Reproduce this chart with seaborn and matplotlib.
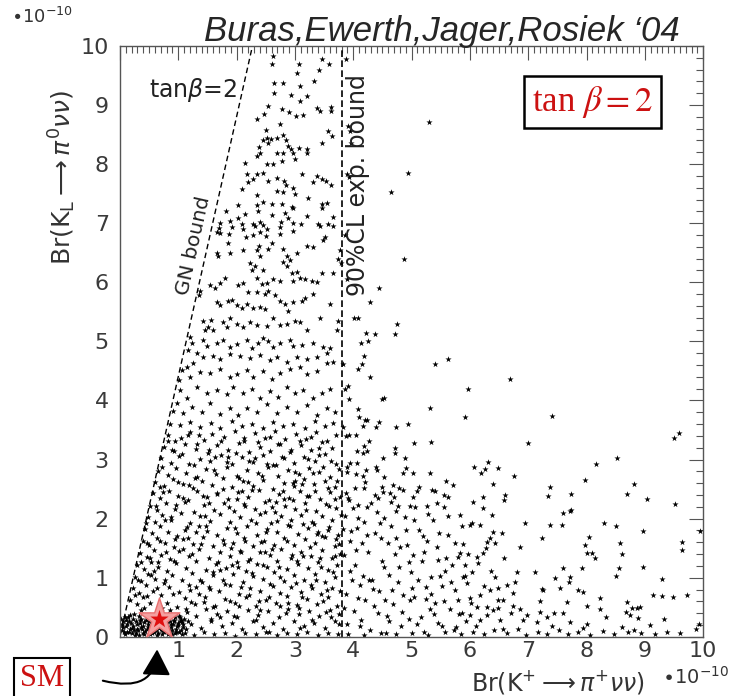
import pandas as pd
import matplotlib
matplotlib.use("Agg")
import matplotlib.pyplot as plt
from matplotlib.ticker import MultipleLocator
import seaborn as sns

# Br(K+ -> pi+ nu nu), Br(K_L -> pi0 nu nu) in units of 1e-10
blob_pts = [
    (0.03,0.12),(0.06,0.27),(0.09,0.05),(0.11,0.19),(0.14,0.33),(0.16,0.09),(0.19,0.24),(0.21,0.15),
    (0.24,0.38),(0.26,0.03),(0.29,0.21),(0.31,0.11),(0.34,0.29),(0.36,0.17),(0.39,0.07),(0.41,0.25),
    (0.44,0.35),(0.46,0.13),(0.49,0.22),(0.51,0.04),(0.54,0.31),(0.56,0.16),(0.59,0.09),(0.61,0.27),
    (0.64,0.19),(0.66,0.06),(0.69,0.36),(0.71,0.14),(0.74,0.23),(0.76,0.08),(0.79,0.32),(0.81,0.18),
    (0.84,0.11),(0.86,0.26),(0.89,0.05),(0.91,0.21),(0.94,0.34),(0.96,0.13),(0.99,0.24),(1.02,0.08),
    (1.05,0.29),(1.08,0.17),(0.04,0.21),(0.08,0.34),(0.12,0.08),(0.15,0.26),(0.18,0.14),(0.22,0.31),
    (0.25,0.11),(0.28,0.06),(0.32,0.36),(0.35,0.23),(0.38,0.13),(0.42,0.04),(0.45,0.28),(0.48,0.17),
    (0.52,0.37),(0.55,0.07),(0.58,0.24),(0.62,0.12),(0.65,0.33),(0.68,0.21),(0.72,0.05),(0.75,0.29),
    (0.78,0.15),(0.82,0.39),(0.85,0.07),(0.88,0.22),(0.92,0.28),(0.95,0.06),(0.98,0.18),(1.01,0.36),
    (1.04,0.12),(1.07,0.25),(1.10,0.31),(0.02,0.31),(0.05,0.16),(0.07,0.09),(0.10,0.29),(0.13,0.22),
    (0.17,0.37),(0.20,0.07),(0.23,0.19),(0.27,0.27),(0.30,0.14),(0.33,0.03),(0.37,0.31),(0.40,0.19),
    (0.43,0.10),(0.47,0.34),(0.50,0.26),(0.53,0.12),(0.57,0.21),(0.60,0.38),(0.63,0.03),(0.67,0.15),
    (0.70,0.26),(0.73,0.11),(0.77,0.19),(0.80,0.25),(0.83,0.04),(0.87,0.16),(0.90,0.12),(0.93,0.27),
    (0.97,0.09),(1.00,0.20),(1.03,0.33),(1.06,0.04),(1.09,0.21),(1.13,0.14),(1.16,0.27),
]

core_pts = [
    (0.82,3.42),(1.05,3.36),(1.21,3.47),(1.44,3.33),(1.58,3.44),(1.79,3.38),(1.97,3.49),(2.13,3.31),
    (2.31,3.45),(2.49,3.37),(2.66,3.48),(2.83,3.34),(3.02,3.43),(3.19,3.35),(3.37,3.46),(3.55,3.32),(3.71,3.41),
    (0.76,3.22),(0.93,3.14),(1.12,3.27),(1.30,3.18),(1.51,3.11),(1.67,3.25),(1.86,3.16),(2.04,3.28),
    (2.22,3.12),(2.40,3.21),(2.57,3.15),(2.75,3.26),(2.92,3.13),(3.10,3.24),(3.28,3.17),(3.46,3.29),(3.64,3.19),
    (0.71,3.03),(0.88,2.95),(1.01,3.06),(1.19,2.92),(1.37,3.01),(1.55,2.97),(1.73,3.08),(1.92,2.93),
    (2.09,3.04),(2.28,2.96),(2.46,3.07),(2.63,2.91),(2.81,3.02),(2.99,2.94),(3.16,3.05),(3.34,2.98),(3.52,3.09),(3.70,2.93),
    (0.66,2.81),(0.82,2.74),(0.97,2.86),(1.14,2.78),(1.32,2.71),(1.48,2.84),(1.65,2.76),(1.83,2.88),
    (2.01,2.72),(2.18,2.83),(2.36,2.77),(2.54,2.87),(2.71,2.73),(2.89,2.82),(3.07,2.75),(3.24,2.86),(3.42,2.79),(3.60,2.71),(3.76,2.84),
    (0.61,2.62),(0.75,2.55),(0.91,2.67),(1.08,2.58),(1.25,2.52),(1.41,2.64),(1.58,2.57),(1.76,2.68),
    (1.93,2.53),(2.11,2.63),(2.29,2.56),(2.46,2.66),(2.63,2.51),(2.81,2.61),(2.98,2.55),(3.15,2.67),(3.33,2.58),(3.51,2.64),(3.68,2.53),
    (0.57,2.43),(0.69,2.35),(0.84,2.46),(1.00,2.38),(1.17,2.32),(1.33,2.47),(1.50,2.36),(1.67,2.44),
    (1.85,2.33),(2.03,2.45),(2.20,2.37),(2.38,2.48),(2.55,2.31),(2.73,2.42),(2.90,2.35),(3.08,2.46),(3.25,2.38),(3.43,2.33),(3.61,2.45),(3.77,2.36),
    (0.52,2.21),(0.64,2.14),(0.79,2.26),(0.95,2.17),(1.11,2.28),(1.27,2.12),(1.44,2.23),(1.61,2.15),
    (1.78,2.27),(1.96,2.13),(2.13,2.24),(2.31,2.16),(2.48,2.29),(2.66,2.11),(2.83,2.22),(3.01,2.17),(3.18,2.27),(3.36,2.13),(3.53,2.24),(3.71,2.18),
    (0.48,2.02),(0.60,1.95),(0.73,2.07),(0.88,1.98),(1.04,2.09),(1.21,1.93),(1.37,2.04),(1.54,1.96),
    (1.72,2.08),(1.89,1.94),(2.06,2.03),(2.24,1.97),(2.41,2.08),(2.59,1.92),(2.76,2.05),(2.94,1.98),(3.11,2.07),(3.29,1.95),(3.46,2.04),(3.64,1.97),(3.79,2.06),
    (0.43,1.82),(0.55,1.75),(0.68,1.87),(0.82,1.78),(0.98,1.71),(1.15,1.86),(1.31,1.77),(1.48,1.88),
    (1.66,1.73),(1.83,1.84),(2.00,1.76),(2.18,1.87),(2.35,1.72),(2.53,1.83),(2.70,1.77),(2.88,1.89),(3.05,1.74),(3.23,1.85),(3.40,1.78),(3.58,1.86),(3.74,1.73),
    (0.39,1.63),(0.50,1.56),(0.63,1.68),(0.77,1.59),(0.92,1.52),(1.08,1.66),(1.25,1.57),(1.42,1.69),
    (1.59,1.54),(1.77,1.64),(1.94,1.58),(2.12,1.67),(2.29,1.53),(2.47,1.63),(2.64,1.56),(2.82,1.68),(2.99,1.55),(3.17,1.65),(3.34,1.59),(3.52,1.69),(3.69,1.54),
    (0.35,1.42),(0.46,1.35),(0.58,1.47),(0.71,1.38),(0.86,1.31),(1.02,1.45),(1.19,1.36),(1.36,1.48),
    (1.53,1.33),(1.71,1.44),(1.88,1.37),(2.06,1.46),(2.23,1.32),(2.41,1.43),(2.58,1.38),(2.76,1.49),(2.93,1.34),(3.11,1.44),(3.28,1.37),(3.46,1.47),(3.63,1.33),(3.78,1.41),
    (0.30,1.22),(0.41,1.15),(0.53,1.27),(0.66,1.18),(0.80,1.11),(0.96,1.25),(1.13,1.16),(1.30,1.28),
    (1.47,1.13),(1.65,1.24),(1.82,1.17),(2.00,1.27),(2.17,1.12),(2.35,1.23),(2.52,1.18),(2.70,1.29),(2.87,1.14),(3.05,1.24),(3.22,1.16),(3.40,1.27),(3.57,1.13),(3.73,1.22),
    (0.26,1.02),(0.37,0.95),(0.48,1.07),(0.61,0.98),(0.75,0.91),(0.90,1.05),(1.07,0.96),(1.24,1.08),
    (1.41,0.93),(1.59,1.04),(1.76,0.97),(1.94,1.07),(2.11,0.92),(2.29,1.03),(2.46,0.98),(2.64,1.09),(2.81,0.94),(2.99,1.04),(3.16,0.96),(3.34,1.07),(3.51,0.93),(3.68,1.02),
    (0.22,0.82),(0.33,0.75),(0.44,0.87),(0.57,0.78),(0.70,0.71),(0.85,0.85),(1.01,0.76),(1.18,0.88),
    (1.35,0.73),(1.53,0.84),(1.70,0.77),(1.88,0.87),(2.05,0.72),(2.23,0.83),(2.40,0.78),(2.58,0.89),(2.75,0.74),(2.93,0.84),(3.10,0.76),(3.28,0.87),(3.45,0.73),(3.63,0.82),(3.77,0.77),
    (0.18,0.62),(0.29,0.55),(0.40,0.67),(0.52,0.58),(0.98,0.51),(1.12,0.65),(1.29,0.56),(1.46,0.68),
    (1.63,0.53),(1.81,0.64),(1.98,0.57),(2.16,0.67),(2.33,0.52),(2.51,0.63),(2.68,0.58),(2.86,0.69),(3.03,0.54),(3.21,0.64),(3.38,0.56),(3.56,0.67),(3.72,0.53),
    (1.15,0.42),(1.31,0.35),(1.48,0.47),(1.66,0.38),(1.84,0.44),(2.01,0.33),(2.19,0.46),(2.37,0.37),
    (2.54,0.43),(2.72,0.34),(2.89,0.47),(3.07,0.39),(3.24,0.44),(3.42,0.35),(3.60,0.46),(3.76,0.38),
    (1.22,0.22),(1.39,0.15),(1.57,0.27),(1.75,0.18),(1.92,0.24),(2.10,0.13),(2.28,0.26),(2.45,0.17),
    (2.63,0.23),(2.80,0.14),(2.98,0.27),(3.15,0.19),(3.33,0.24),(3.51,0.15),(3.68,0.26),
]

core_fill = [
    (0.95,3.31),(1.63,3.05),(2.37,3.29),(3.41,3.08),(0.74,2.45),(1.27,2.91),(2.19,2.62),(2.94,3.17),
    (3.57,2.52),(1.52,2.27),(2.61,2.19),(3.12,2.58),(0.68,1.62),(1.09,2.35),(1.98,1.85),(2.87,1.62),
    (3.33,1.91),(0.54,1.05),(1.39,1.57),(2.45,1.21),(3.02,0.91),(3.68,1.37),(0.47,0.69),(0.93,1.29),
    (1.72,1.13),(2.22,0.71),(2.74,0.52),(3.49,0.61),(1.22,0.59),(1.95,0.36),(2.56,0.09),(3.30,0.29),
    (0.86,0.46),(1.55,0.81),(2.08,1.43),(2.69,1.96),(3.21,2.39),(3.62,2.97),(1.11,1.81),(1.77,2.51),
    (2.32,3.02),(2.96,2.31),(3.71,1.65),(0.62,2.21),(0.99,2.62),(1.46,2.05),(2.14,2.21),(2.79,2.46),
    (3.38,1.74),(1.30,0.85),(1.88,0.61),(2.41,0.45),(3.09,0.15),(3.55,0.79),(1.03,0.27),(1.60,0.51),
    (2.02,1.19),(2.50,1.77),(3.14,1.36),(3.44,1.18),(0.79,1.43),(1.17,1.67),(1.84,2.96),(2.71,3.27),
    (3.27,3.39),(0.89,3.16),(1.35,3.41),(2.05,2.69),(2.53,2.92),(3.00,2.64),(1.12,0.06),(1.27,0.03),
    (1.45,0.08),(1.61,0.04),(1.80,0.07),(1.97,0.02),(2.15,0.06),(2.33,0.04),(2.50,0.08),(2.69,0.03),
    (2.86,0.06),(3.04,0.05),(3.21,0.08),(3.39,0.03),(3.57,0.06),(3.74,0.04),
]

core_fill2 = [
    (0.58,1.12),(0.73,2.88),(0.81,0.57),(0.87,2.03),(0.94,1.66),(1.06,3.09),(1.14,0.47),(1.19,2.57),
    (1.24,1.41),(1.33,3.26),(1.38,0.97),(1.42,2.38),(1.49,1.79),(1.56,0.31),(1.62,2.82),(1.68,1.27),
    (1.74,3.31),(1.81,0.89),(1.87,2.19),(1.91,1.51),(1.99,3.11),(2.04,0.52),(2.09,2.47),(2.15,1.63),
    (2.21,2.97),(2.26,1.08),(2.33,1.93),(2.38,0.61),(2.44,2.73),(2.48,1.43),(2.57,3.39),(2.62,0.86),
    (2.67,2.29),(2.73,1.19),(2.78,3.04),(2.84,0.41),(2.91,1.88),(2.96,2.61),(3.04,1.28),(3.09,3.31),
    (3.13,0.68),(3.19,2.14),(3.26,1.52),(3.31,2.77),(3.36,0.97),(3.41,3.19),(3.47,1.71),(3.53,0.42),
    (3.58,2.21),(3.66,1.09),(3.73,2.63),(3.76,0.21),(0.45,1.93),(0.51,1.33),(0.63,0.83),(0.69,2.54),
    (0.77,1.97),(0.83,3.31),(0.91,0.73),(0.97,2.23),(1.09,1.49),(1.16,3.42),(1.21,0.79),(1.28,2.69),
    (1.35,1.87),(1.44,0.59),(1.52,3.17),(1.59,1.09),(1.66,2.41),(1.71,0.33),(1.79,1.57),(1.86,3.04),
    (1.93,1.21),(2.01,2.33),(2.07,0.84),(2.12,3.36),(2.19,1.29),(2.27,2.49),(2.34,0.29),(2.42,1.61),
    (2.49,2.11),(2.55,0.67),(2.61,1.49),(2.68,2.91),(2.75,1.02),(2.82,2.34),(2.89,0.58),(2.95,1.39),
    (3.01,2.79),(3.07,0.48),(3.14,1.91),(3.22,3.01),(3.29,0.83),(3.35,2.47),(3.43,1.33),(3.49,2.88),
    (3.56,1.81),(3.62,0.33),(3.69,2.33),(3.75,1.57),(0.37,1.26),(0.42,0.49),(0.31,0.97),(0.26,0.71),
    (0.55,0.36),(0.47,1.58),(0.36,0.45),(0.66,1.27),(0.72,0.49),(0.78,0.96),
]

mid_pts = [
    (1.72,6.84),(1.87,6.81),(2.16,6.76),(2.28,6.80),(2.40,6.85),(2.50,6.78),(2.74,6.82),(2.97,6.86),
    (1.85,6.66),(1.89,6.50),(2.11,6.55),(2.35,6.54),(2.41,6.45),(2.54,6.57),(2.60,6.66),(2.39,6.62),
    (1.66,6.50),(1.69,6.44),(2.80,6.57),(2.86,6.45),(2.92,6.37),(2.79,6.34),(3.03,6.49),(3.20,6.62),
    (3.31,6.59),(3.52,6.76),(3.48,6.71),(3.77,6.54),(3.74,6.40),(3.79,6.32),(3.65,6.15),
    (2.23,6.32),(2.32,6.28),(2.26,6.20),(2.45,6.20),(2.35,6.08),(2.52,5.98),(2.44,5.97),(2.62,6.06),
    (2.74,6.03),(2.86,6.28),(2.95,6.15),(3.03,6.17),(3.09,6.08),(2.97,6.03),(3.17,6.06),(3.29,6.03),
    (3.38,6.01),(3.46,6.15),(1.80,6.08),(1.54,5.95),(1.63,5.91),(1.72,5.98),(2.02,5.95),(2.11,5.99),
    (2.20,5.83),(2.35,5.84),(2.49,5.81),(2.54,5.85),(1.38,5.86),(1.36,5.78),(2.66,5.78),(2.74,5.69),
    (2.83,5.64),(2.88,5.52),(2.97,5.66),(3.12,5.69),(3.17,5.74),(3.31,5.81),(1.66,5.66),(1.72,5.61),
    (1.85,5.69),(1.92,5.70),(2.00,5.61),(2.09,5.57),(2.18,5.64),(2.28,5.56),(2.40,5.58),(2.49,5.55),
    (3.60,5.64),(3.43,5.39),(3.74,5.35),(3.72,5.19),(1.43,5.35),(1.57,5.36),(1.51,5.24),(1.46,5.19),
    (1.60,5.20),(1.77,5.32),(1.89,5.39),(1.83,5.24),(2.00,5.30),(2.11,5.24),(2.23,5.32),(2.35,5.27),
    (2.52,5.26),(2.62,5.39),(2.74,5.27),(2.86,5.30),(3.00,5.35),(3.09,5.32),(3.20,5.19),
    (1.20,5.07),(1.23,4.97),(1.17,4.85),(1.43,5.02),(1.49,4.93),(1.66,4.97),(1.77,5.02),(1.89,4.90),
    (2.00,4.96),(2.18,5.03),(2.26,4.88),(2.37,4.98),(2.45,5.05),(2.54,5.01),(2.62,4.90),(2.74,4.97),
    (2.92,5.02),(2.97,4.93),(3.12,4.94),(3.31,4.97),(3.48,4.91),(3.60,4.88),
    (1.32,4.80),(1.43,4.73),(1.60,4.76),(1.72,4.71),(1.89,4.79),(2.06,4.75),(2.23,4.72),(2.40,4.77),
    (2.57,4.68),(2.69,4.74),(2.86,4.65),(3.03,4.73),(3.20,4.71),(3.38,4.74),(3.55,4.80),(3.65,4.65),
    (1.01,4.34),(1.06,4.51),(1.15,4.56),(1.26,4.63),(1.20,4.39),(1.37,4.48),(1.54,4.46),(1.72,4.54),
    (1.89,4.39),(2.00,4.45),(2.18,4.51),(2.28,4.40),(2.45,4.50),(2.60,4.37),(2.74,4.46),(2.92,4.54),
    (3.09,4.56),(3.20,4.45),(3.38,4.50),(3.55,4.63),(1.03,4.17),(1.15,4.05),(1.32,4.22),(1.49,4.12),
    (1.66,4.18),(1.83,4.11),(1.94,4.23),(2.11,4.13),(2.26,4.20),(2.40,4.04),(2.57,4.16),(2.71,4.06),
    (2.86,4.22),(3.00,4.12),(3.14,4.17),(3.31,4.05),(3.46,4.13),(3.60,4.19),
    (0.91,3.83),(0.98,3.95),(1.08,3.78),(1.23,3.89),(1.40,3.80),(1.54,3.96),(1.72,3.77),(1.89,3.88),
    (2.02,3.75),(2.18,3.87),(2.35,3.81),(2.52,3.94),(2.69,3.78),(2.86,3.89),(3.03,3.80),(3.20,3.92),
    (3.38,3.76),(3.55,3.88),(3.69,3.81),(0.86,3.61),(1.03,3.58),(1.20,3.63),(1.37,3.55),(1.57,3.62),
    (1.72,3.54),(1.92,3.65),(2.09,3.56),(2.26,3.60),(2.45,3.53),(2.62,3.64),(2.80,3.57),(2.97,3.61),
    (3.17,3.54),(3.35,3.66),(3.52,3.56),(3.65,3.62),
]

top_pts = [
    (2.62,9.83),(2.60,9.70),(3.07,9.69),(3.46,9.78),(3.59,9.69),(3.03,9.55),(3.41,9.60),(3.33,9.41),
    (2.64,9.37),(2.80,9.37),(3.09,9.32),(2.64,9.20),(2.93,9.17),(3.20,9.15),(3.09,9.07),(2.54,8.99),
    (3.38,8.95),(3.43,8.90),(3.62,8.97),(3.62,8.90),(2.35,8.77),(2.47,8.85),(2.78,8.93),(2.90,8.88),
    (3.02,8.82),(3.14,8.83),(2.74,8.68),(2.50,8.58),(3.57,8.56),(3.64,8.48),(2.52,8.45),(2.59,8.43),
    (2.69,8.45),(2.80,8.50),(2.85,8.40),(2.45,8.40),(2.54,8.36),(2.88,8.31),(2.93,8.26),(3.07,8.28),
    (3.21,8.26),(3.21,8.18),(3.46,8.36),(2.38,8.29),(2.35,8.14),(2.40,8.18),(2.69,8.19),(2.80,8.19),
    (2.14,8.02),(2.52,8.00),(2.62,8.00),(2.78,8.06),(2.97,8.18),(3.00,8.09),(2.18,7.84),(2.35,7.84),
    (2.45,7.85),(2.54,7.72),(2.69,7.77),(2.81,7.72),(2.85,7.65),(3.38,7.80),(3.46,7.75),(3.53,7.72),
    (3.62,7.64),(3.12,7.84),(3.31,7.69),(2.09,7.58),(2.20,7.70),(2.28,7.74),(2.69,7.55),(2.80,7.52),
    (2.97,7.60),(3.00,7.50),(3.22,7.43),(2.35,7.47),(2.45,7.36),(2.61,7.33),(2.78,7.33),(2.95,7.28),
    (2.02,7.30),(2.14,7.16),(2.35,7.30),(2.37,7.20),(2.97,7.25),(2.83,7.18),(3.46,7.33),(3.46,7.25),
    (3.55,7.35),(3.65,7.10),(1.82,7.20),(1.71,7.00),(1.66,6.85),(1.70,6.92),(1.89,7.04),(1.92,6.94),
    (2.02,7.09),(2.09,6.99),(2.11,6.90),(2.28,6.99),(2.31,6.95),(2.40,7.02),(2.45,6.97),(2.52,6.91),
    (2.60,7.14),(2.77,7.02),(2.88,7.08),(2.97,7.00),(2.74,6.93),(3.10,6.99),(3.21,7.13),(3.40,6.99),
    (3.43,6.95),(3.57,6.99),(3.65,6.95),
]

right_pts = [
    (5.30,8.72),(4.94,7.85),(4.65,7.52),(4.87,6.40),(4.44,5.90),(4.29,5.66),(4.01,5.40),(4.75,5.30),
    (4.72,5.13),(4.22,5.15),(4.37,5.13),(4.13,4.98),(4.25,5.00),(3.91,8.65),(3.95,8.56),(3.90,7.84),
    (3.96,8.36),(3.88,9.78),(3.92,7.79),(3.86,6.80),(3.90,6.05),(4.08,5.39),(4.19,4.76),(3.83,4.61),
    (4.15,4.61),(4.08,4.54),(5.40,4.61),(5.63,4.70),(4.29,4.39),(6.69,4.36),(3.86,4.19),(3.91,4.24),
    (5.97,4.19),(3.93,4.02),(4.49,4.02),(4.53,4.04),(5.32,3.87),(4.08,3.85),(4.10,3.72),(4.20,3.67),
    (4.24,3.67),(4.44,3.63),(4.39,3.55),(4.17,3.56),(5.92,3.72),(7.41,3.73),(4.73,3.55),(4.94,3.60),
    (3.83,3.55),(3.88,3.40),(3.93,3.41),(4.05,3.41),(5.33,3.29),(5.04,3.28),(4.27,3.31),(4.19,3.23),
    (4.17,3.11),(4.24,3.14),(4.07,3.14),(4.72,3.19),(4.72,3.11),(7.00,3.28),(9.50,3.36),(9.59,3.45),
    (4.51,3.02),(4.89,3.02),(3.89,2.87),(3.95,2.94),(4.07,2.94),(3.89,2.79),(4.39,2.87),(4.41,2.82),
    (4.22,2.82),(4.17,2.72),(4.05,2.75),(4.91,2.85),(5.03,2.77),(4.85,2.77),(4.53,2.70),(5.32,2.77),
    (6.07,2.87),(6.26,2.84),(6.19,2.77),(6.31,2.96),(6.48,2.85),(6.76,2.72),(8.16,2.92),(7.98,2.65),
    (8.52,3.02),(7.38,2.53),(8.82,2.58),(5.59,2.63),(5.71,2.57),(6.40,2.58),(4.03,2.52),(4.20,2.62),
    (4.19,2.52),(4.49,2.53),(4.51,2.45),(4.68,2.57),(4.79,2.52),(4.85,2.48),(5.03,2.36),(5.09,2.47),
    (5.13,2.53),(5.35,2.48),(5.40,2.47),(5.56,2.40),(5.63,2.36),(3.88,2.43),(3.91,2.35),(4.08,2.23),
    (4.24,2.20),(4.37,2.40),(4.43,2.35),(4.63,2.43),(4.70,2.36),(4.65,2.28),(4.77,2.21),(4.97,2.21),
    (5.06,2.20),(5.27,2.21),(5.44,2.26),(5.56,2.20),(6.05,2.28),(6.23,2.36),(6.23,2.18),(6.60,2.40),
    (6.59,2.31),(7.34,2.38),(7.74,2.42),(7.74,2.15),(8.70,2.42),(9.04,2.33),(9.52,2.25),
]

tail_pts = [
    (3.86,2.05),(3.95,1.62),(4.03,1.21),(4.11,0.88),(4.02,0.44),(3.89,0.21),(4.18,1.95),(4.26,1.44),
    (4.33,0.97),(4.21,0.62),(4.29,0.12),(4.41,2.12),(4.47,1.67),(4.53,1.18),(4.45,0.78),(4.58,0.36),
    (4.64,1.88),(4.71,1.41),(4.77,0.92),(4.69,0.55),(4.82,0.18),(4.88,2.02),(4.93,1.55),(4.99,1.09),
    (5.05,0.68),(4.96,0.31),(5.12,1.81),(5.18,1.29),(5.24,0.84),(5.31,0.47),(5.22,0.09),(5.37,1.97),
    (5.43,1.52),(5.49,1.03),(5.56,0.61),(5.46,0.24),(5.63,1.73),(5.69,1.22),(5.75,0.79),(5.81,0.38),
    (5.72,0.11),(3.92,2.31),(4.07,1.84),(4.14,0.29),(4.38,1.76),(4.61,1.04),(4.85,0.71),(5.02,1.38),
    (5.27,1.62),(5.52,0.86),(5.88,1.57),(3.84,1.38),(3.98,0.97),(4.09,0.66),(4.36,0.53),(4.52,2.01),
    (4.74,1.67),(5.09,0.22),(5.34,0.73),(5.66,0.47),(5.91,1.03),(6.02,0.58),(6.11,0.19),(6.25,0.86),
    (6.36,1.12),(6.49,0.62),(6.57,0.14),(6.71,0.41),(3.83,1.83),(3.87,0.73),(3.94,1.11),(3.99,2.18),
    (4.05,1.47),(4.12,0.18),(4.16,1.03),(4.23,1.72),(4.31,2.27),(4.34,0.81),(4.42,0.41),(4.49,1.29),
    (4.56,0.07),(4.60,1.58),(4.66,0.79),(4.73,2.13),(4.79,1.19),(4.84,0.42),(4.91,1.81),(4.98,0.63),
    (5.04,1.98),(5.11,0.97),(5.16,0.34),(5.21,1.44),(5.29,2.08),(5.33,1.01),(5.41,0.57),(5.47,1.75),
    (5.53,0.19),(5.59,1.33),(5.62,2.04),(5.68,0.93),(5.74,1.58),(5.79,0.62),(5.86,1.87),(5.93,0.27),
    (5.97,1.41),(3.85,0.49),(3.97,1.79),(4.08,2.01),(4.27,0.97),(4.46,1.93),(4.62,0.26),(4.81,1.52),
    (5.01,0.82),(5.19,1.71),(5.38,0.39),(5.58,1.12),(5.77,0.17),(4.15,1.58),(4.55,0.63),(4.95,1.27),
    (5.25,0.64),(5.45,1.30),
]

far_pts = [
    (5.83,2.06),(6.38,2.06),(7.60,2.09),(7.72,2.13),(6.95,1.93),(7.38,1.89),(7.58,1.89),(8.30,1.93),
    (8.51,1.88),(8.97,1.79),(9.95,1.79),(9.64,1.60),(9.64,1.47),(8.97,1.18),(9.30,0.98),(9.14,0.71),
    (9.30,0.69),(9.49,0.68),(9.73,0.71),(7.98,1.55),(8.01,1.42),(8.10,1.42),(8.15,1.33),(8.04,1.69),
    (8.58,1.59),(8.61,1.40),(8.56,1.17),(8.51,1.03),(7.92,1.17),(7.24,1.67),(6.86,1.52),(6.59,1.33),
    (7.12,1.10),(7.46,1.00),(7.60,1.17),(7.72,1.01),(7.70,0.93),(7.55,0.83),(7.85,0.79),(7.66,0.59),
    (7.94,0.76),(8.23,0.66),(8.01,0.52),(8.23,0.47),(8.34,0.34),(7.60,0.41),(7.45,0.41),(7.33,0.34),
    (7.24,0.81),(7.26,0.79),(7.21,0.61),(7.72,0.25),(7.94,0.15),(8.70,0.59),(8.78,0.49),(8.87,0.49),
    (8.92,0.51),(8.68,0.42),(8.75,0.37),(8.89,0.32),(9.09,0.20),(9.33,0.30),(6.81,1.10),(6.78,0.93),
    (6.64,0.88),(6.74,0.74),(6.57,0.63),(6.74,0.52),(6.86,0.47),(6.98,0.37),(6.91,0.29),(7.15,0.25),
    (7.20,0.42),(6.43,1.59),(6.35,1.67),(6.30,1.60),(6.23,1.42),(6.28,1.50),(6.04,1.93),(6.00,1.89),
    (6.17,1.89),(6.40,1.77),(6.55,1.76),(6.14,1.25),(6.12,1.35),(5.83,1.42),(5.80,1.35),(5.92,1.22),
    (6.04,1.10),(5.88,1.01),(5.95,0.91),(6.00,0.66),(6.17,0.71),(6.35,0.79),(6.43,1.01),(6.48,0.83),
    (6.30,0.51),(6.12,0.51),(5.87,0.41),(6.00,0.37),(6.30,0.37),(6.40,0.46),(6.48,0.49),(6.52,0.29),
    (6.17,0.29),
]

floor_pts = [
    (6.05,0.08),(6.24,0.04),(6.42,0.11),(6.63,0.06),(6.82,0.13),(6.97,0.03),(7.16,0.09),(7.33,0.05),
    (7.52,0.12),(7.68,0.04),(7.86,0.08),(8.06,0.03),(8.28,0.10),(8.47,0.05),(8.71,0.09),(8.82,0.12),
    (8.93,0.07),(9.18,0.04),(9.38,0.09),(9.61,0.06),(9.87,0.14),(9.93,0.22),(7.40,0.18),(8.00,0.21),
    (8.60,0.17),(3.91,0.05),(4.19,0.03),(4.47,0.07),(4.73,0.04),(5.01,0.06),(5.28,0.03),(5.57,0.08),
    (5.84,0.05),
]

sm_point = (0.67, 0.30)
gn_slope = 4.4        # GN bound: Br(KL) <= 4.4 Br(K+)
exp_bound = 3.8       # 90% CL experimental bound on Br(K+)

sns.set_style("white")
plt.rcParams['font.family'] = ['DejaVu Sans']
plt.rcParams['mathtext.fontset'] = 'dejavusans'

fig = plt.figure(figsize=(7.31, 6.96), dpi=100)
ax = fig.add_axes([0.164, 0.085, 0.798, 0.849])

pts = (blob_pts + core_pts + core_fill + core_fill2 + mid_pts + top_pts
       + right_pts + tail_pts + far_pts + floor_pts)
df = pd.DataFrame(pts, columns=["br_kplus", "br_kl"])
sns.scatterplot(data=df, x="br_kplus", y="br_kl", ax=ax, marker="*", s=22,
                color="black", linewidth=0, legend=False, clip_on=True)

# bounds
ax.plot([0, 10 / gn_slope], [0, 10], color="black", lw=1, ls=(0, (4, 2.5)))
ax.axvline(exp_bound, color="black", lw=1.2, ls=(0, (4, 2)))

# SM point
ax.scatter([sm_point[0]], [sm_point[1]], marker="*", s=950, color="#f4a0a0",
           edgecolor="#e87070", linewidth=1, zorder=5)
ax.scatter([sm_point[0]], [sm_point[1]], marker="*", s=190, color="#e01010",
           linewidth=0, zorder=6)

ax.set_xlim(0, 10)
ax.set_ylim(0, 10)
ax.set_xticks(range(0, 11))
ax.set_xticklabels([""] + [str(i) for i in range(1, 11)])
ax.set_yticks(range(0, 11))
ax.xaxis.set_minor_locator(MultipleLocator(0.1))
ax.yaxis.set_minor_locator(MultipleLocator(0.2))
ax.tick_params(which="both", direction="in", top=True, right=True, colors="#555555",
               labelcolor="#3a3a3a", labelsize=16, width=0.8)
ax.tick_params(which="major", length=10)
ax.tick_params(which="minor", length=5)
ax.tick_params(axis="x", pad=3)
ax.tick_params(axis="y", pad=8)
for sp in ax.spines.values():
    sp.set_color("#555555")
    sp.set_linewidth(1)
ax.set_xlabel("")
ax.set_ylabel("")

# annotations inside the frame
ax.text(0.5, 9.25, r"tan$\beta$=2", fontsize=17, color="#222222", ha="left", va="center")
ax.text(1.27, 6.62, "GN bound", fontsize=14.5, color="#222222", rotation=77.5,
        ha="center", va="center")
ax.text(4.08, 7.65, "90%CL exp. bound", fontsize=17, color="#222222", rotation=90,
        ha="center", va="center")
ax.text(8.1, 9.05, r"tan $\beta = 2$", fontsize=25, color="#cc1111", ha="center", va="center",
        family="Liberation Serif", math_fontfamily="stix",
        bbox=dict(boxstyle="square,pad=0.22", fc="white", ec="black", lw=1.8))

# titles and axis labels
fig.text(0.93, 0.955, "Buras,Ewerth,Jager,Rosiek \u201804", fontsize=25, style="italic",
         family="Liberation Sans", ha="right", va="center")
fig.text(0.057, 0.975, r"$\bullet$10$^{-10}$", fontsize=13, color="#333333", ha="center", va="center")
fig.text(0.997, 0.028, r"$\bullet$10$^{-10}$", fontsize=14, color="#333333", ha="right", va="center")
fig.text(0.882, 0.02, r"Br(K$^{+}$$\longrightarrow$$\pi^{+}\nu\nu$)", fontsize=17,
         color="#333333", ha="right", va="center")
fig.text(0.085, 0.745, r"Br(K$_{\rm L}$$\longrightarrow$$\pi^{0}\nu\nu$)", fontsize=18,
         color="#333333", rotation=90, ha="center", va="center")

# SM box and arrow
fig.text(0.057, 0.025, "SM", fontsize=22, color="#cc1111", family="Liberation Serif",
         ha="center", va="center",
         bbox=dict(boxstyle="square,pad=0.2", fc="white", ec="black", lw=1.5))
ax.annotate("", xy=(0.215, 0.071), xycoords="figure fraction",
            xytext=(0.137, 0.023), textcoords="figure fraction",
            arrowprops=dict(arrowstyle="-|>,head_length=1.0,head_width=0.55", color="black",
                            lw=1.5, mutation_scale=16,
                            connectionstyle="angle3,angleA=-15,angleB=90"),
            annotation_clip=False)

fig.savefig("out.png", dpi=100)
plt.close("all")
